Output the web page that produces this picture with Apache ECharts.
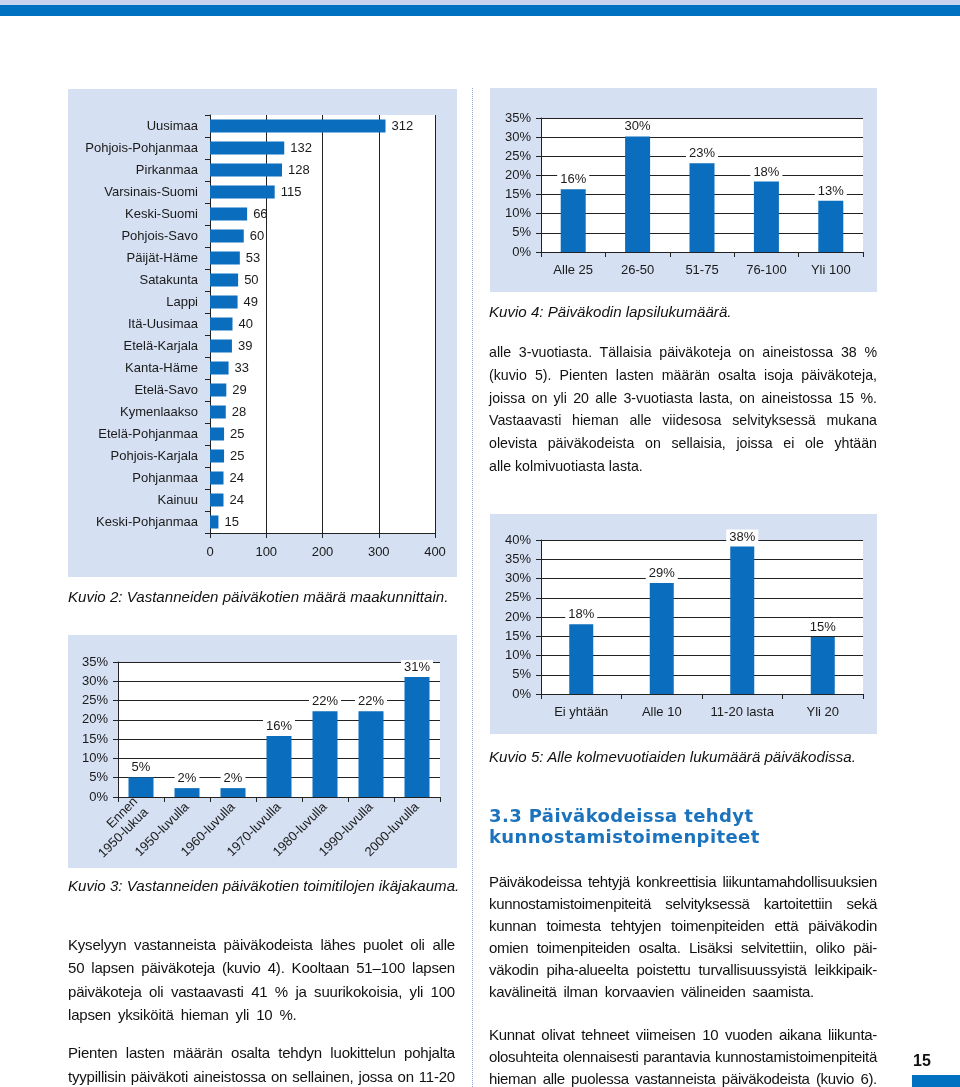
<!DOCTYPE html>
<html><head><meta charset="utf-8">
<script src="https://cdn.jsdelivr.net/npm/echarts@6/dist/echarts.min.js"></script>
<style>
html,body{margin:0;padding:0;background:#fff;}
#page{position:relative;width:960px;height:1087px;overflow:hidden;font-family:"Liberation Sans",Arial,sans-serif;color:#111;}
.panel{position:absolute;background:#d5e0f2;z-index:0;}
#chart{position:absolute;left:0;top:0;width:960px;height:1087px;z-index:1;}
.txt{position:absolute;z-index:2;font-size:14px;}
.txt div{white-space:nowrap;}
.txt .j{text-align:justify;text-align-last:justify;}
.cap{position:absolute;z-index:2;font-size:15.1px;line-height:18px;font-style:italic;white-space:nowrap;}
.h{position:absolute;z-index:2;font-family:"DejaVu Sans",Verdana,sans-serif;font-weight:bold;font-size:18px;color:#1b73bd;letter-spacing:0.4px;line-height:21px;white-space:nowrap;}
</style></head>
<body><div id="page">
<div style="position:absolute;left:0;top:0;width:960px;height:5px;background:#c9d3ef;"></div>
<div style="position:absolute;left:0;top:5px;width:960px;height:11px;background:#0071c1;"></div>
<div style="position:absolute;left:472px;top:88px;height:999px;border-left:1px dotted #8ea6d2;"></div>
<div class="panel" style="left:68px;top:89px;width:389px;height:488px;"></div>
<div class="panel" style="left:68px;top:635px;width:389px;height:233px;"></div>
<div class="panel" style="left:490px;top:88px;width:387px;height:204px;"></div>
<div class="panel" style="left:490px;top:514px;width:387px;height:220px;"></div>
<div id="chart"></div>

<div class="cap" style="left:68px;top:588px;">Kuvio 2: Vastanneiden päiväkotien määrä maakunnittain.</div>
<div class="cap" style="left:68px;top:877px;">Kuvio 3: Vastanneiden päiväkotien toimitilojen ikäjakauma.</div>
<div class="cap" style="left:489px;top:303px;">Kuvio 4: Päiväkodin lapsilukumäärä.</div>
<div class="cap" style="left:489px;top:748px;">Kuvio 5: Alle kolmevuotiaiden lukumäärä päiväkodissa.</div>

<div class="txt" style="left:68px;top:933px;width:387px;line-height:23.3px;font-size:15px;letter-spacing:-0.2px;">
<div class="j">Kyselyyn vastanneista päiväkodeista lähes puolet oli alle</div>
<div class="j">50 lapsen päiväkoteja (kuvio 4). Kooltaan 51–100 lapsen</div>
<div class="j">päiväkoteja oli vastaavasti 41 % ja suurikokoisia, yli 100</div>
<div style="word-spacing:3px;">lapsen yksiköitä hieman yli 10 %.</div>
</div>
<div class="txt" style="left:68px;top:1041px;width:387px;line-height:23.5px;font-size:15px;letter-spacing:-0.2px;">
<div class="j">Pienten lasten määrän osalta tehdyn luokittelun pohjalta</div>
<div class="j">tyypillisin päiväkoti aineistossa on sellainen, jossa on 11-20</div>
</div>

<div class="txt" style="left:489px;top:341px;width:388px;line-height:22.8px;font-size:14.2px;">
<div class="j">alle 3-vuotiasta. Tällaisia päiväkoteja on aineistossa 38 %</div>
<div class="j">(kuvio 5). Pienten lasten määrän osalta isoja päiväkoteja,</div>
<div class="j">joissa on yli 20 alle 3-vuotiasta lasta, on aineistossa 15 %.</div>
<div class="j">Vastaavasti hieman alle viidesosa selvityksessä mukana</div>
<div class="j">olevista päiväkodeista on sellaisia, joissa ei ole yhtään</div>
<div>alle kolmivuotiasta lasta.</div>
</div>

<div class="h" style="left:489px;top:805px;">3.3 Päiväkodeissa tehdyt<br>kunnostamistoimenpiteet</div>

<div class="txt" style="left:489px;top:871px;width:388px;line-height:22px;font-size:15px;letter-spacing:-0.3px;">
<div class="j">Päiväkodeissa tehtyjä konkreettisia liikuntamahdollisuuksien</div>
<div class="j">kunnostamistoimenpiteitä selvityksessä kartoitettiin sekä</div>
<div class="j">kunnan toimesta tehtyjen toimenpiteiden että päiväkodin</div>
<div class="j">omien toimenpiteiden osalta. Lisäksi selvitettiin, oliko päi-</div>
<div class="j">väkodin piha-alueelta poistettu turvallisuussyistä leikkipaik-</div>
<div style="word-spacing:3px;">kavälineitä ilman korvaavien välineiden saamista.</div>
</div>
<div class="txt" style="left:489px;top:1024px;width:388px;line-height:22px;font-size:15px;letter-spacing:-0.3px;">
<div class="j">Kunnat olivat tehneet viimeisen 10 vuoden aikana liikunta-</div>
<div class="j">olosuhteita olennaisesti parantavia kunnostamistoimenpiteitä</div>
<div class="j">hieman alle puolessa vastanneista päiväkodeista (kuvio 6).</div>
</div>

<div style="position:absolute;left:913px;top:1052px;z-index:2;font-weight:bold;font-size:16px;">15</div>
<div style="position:absolute;left:912px;top:1075px;width:48px;height:12px;background:#0071c1;"></div>
</div>
<script>
const regions = ['Uusimaa','Pohjois-Pohjanmaa','Pirkanmaa','Varsinais-Suomi','Keski-Suomi','Pohjois-Savo','Päijät-Häme','Satakunta','Lappi','Itä-Uusimaa','Etelä-Karjala','Kanta-Häme','Etelä-Savo','Kymenlaakso','Etelä-Pohjanmaa','Pohjois-Karjala','Pohjanmaa','Kainuu','Keski-Pohjanmaa'];
const regionCounts = [312,132,128,115,66,60,53,50,49,40,39,33,29,28,25,25,24,24,15];
const regionTicks = {min:0, max:400, interval:100};

const decades = ['Ennen\n1950-lukua','1950-luvulla','1960-luvulla','1970-luvulla','1980-luvulla','1990-luvulla','2000-luvulla'];
const decadeShares = [5.1, 2.3, 2.3, 15.8, 22.2, 22.2, 31.1];
const decadeTicks = {min:0, max:35, interval:5};

const sizeClasses = ['Alle 25','26-50','51-75','76-100','Yli 100'];
const sizeShares = [16.4, 30.2, 23.2, 18.4, 13.4];
const sizeTicks = {min:0, max:35, interval:5};

const under3Classes = ['Ei yhtään','Alle 10','11-20 lasta','Yli 20'];
const under3Shares = [18.1, 28.8, 38.3, 14.8];
const under3Ticks = {min:0, max:40, interval:5};

const blue = '#0b6dbd';
const ink = '#1a1a1a';
const font = {fontFamily:'Liberation Sans, Arial, sans-serif', fontSize:13, color:ink};
const line = {lineStyle:{color:'#222', width:1}};

function catAxisX(gi, data, extra) {
  return Object.assign({type:'category', gridIndex:gi, data, boundaryGap:true,
    axisLine:Object.assign({show:true}, line), axisTick:Object.assign({show:true, length:5, alignWithLabel:false}, line),
    axisLabel:Object.assign({margin:12, interval:0}, font), splitLine:{show:false}}, extra||{});
}
function pctAxisY(gi, t) {
  return {type:'value', gridIndex:gi, min:t.min, max:t.max, interval:t.interval,
    axisLine:Object.assign({show:true}, line), axisTick:Object.assign({show:true, length:5}, line),
    axisLabel:Object.assign({margin:10, formatter:'{value}%'}, font),
    splitLine:{show:true, lineStyle:{color:'#222', width:1}}};
}
function pctBar(gi, data, w) {
  return {type:'bar', xAxisIndex:gi, yAxisIndex:gi, data, barWidth:w, itemStyle:{color:blue},
    label:Object.assign({show:true, position:'top', distance:2, backgroundColor:'#fff', padding:[1,3],
      formatter:p=>Math.round(p.value)+'%'}, font), silent:true, animation:false};
}

const chart = echarts.init(document.getElementById('chart'));
chart.setOption({
  animation:false,
  grid:[
    {left:210, top:115, width:225, height:418, show:true, backgroundColor:'#fff', borderWidth:0},
    {left:118, top:662, width:322, height:135, show:true, backgroundColor:'#fff', borderWidth:0},
    {left:541, top:118, width:322, height:134, show:true, backgroundColor:'#fff', borderWidth:0},
    {left:541, top:540, width:322, height:154, show:true, backgroundColor:'#fff', borderWidth:0}
  ],
  xAxis:[
    {type:'value', gridIndex:0, min:regionTicks.min, max:regionTicks.max, interval:regionTicks.interval,
      axisLine:Object.assign({show:true}, line), axisTick:Object.assign({show:true, length:5}, line),
      axisLabel:Object.assign({margin:13}, font), splitLine:{show:true, lineStyle:{color:'#222', width:1}}},
    catAxisX(1, decades, {axisLabel:Object.assign({margin:8, interval:0, rotate:45, lineHeight:15}, font)}),
    catAxisX(2, sizeClasses),
    catAxisX(3, under3Classes)
  ],
  yAxis:[
    {type:'category', gridIndex:0, data:regions, inverse:true,
      axisLine:Object.assign({show:true}, line), axisTick:Object.assign({show:true, length:5}, line),
      axisLabel:Object.assign({margin:12, interval:0}, font), splitLine:{show:false}},
    pctAxisY(1, decadeTicks),
    pctAxisY(2, sizeTicks),
    pctAxisY(3, under3Ticks)
  ],
  series:[
    {type:'bar', xAxisIndex:0, yAxisIndex:0, data:regionCounts, barWidth:13, itemStyle:{color:blue},
      label:Object.assign({show:true, position:'right', distance:6}, font)},
    pctBar(1, decadeShares, 25),
    pctBar(2, sizeShares, 25),
    pctBar(3, under3Shares, 24)
  ]
});
</script>
</body></html>
